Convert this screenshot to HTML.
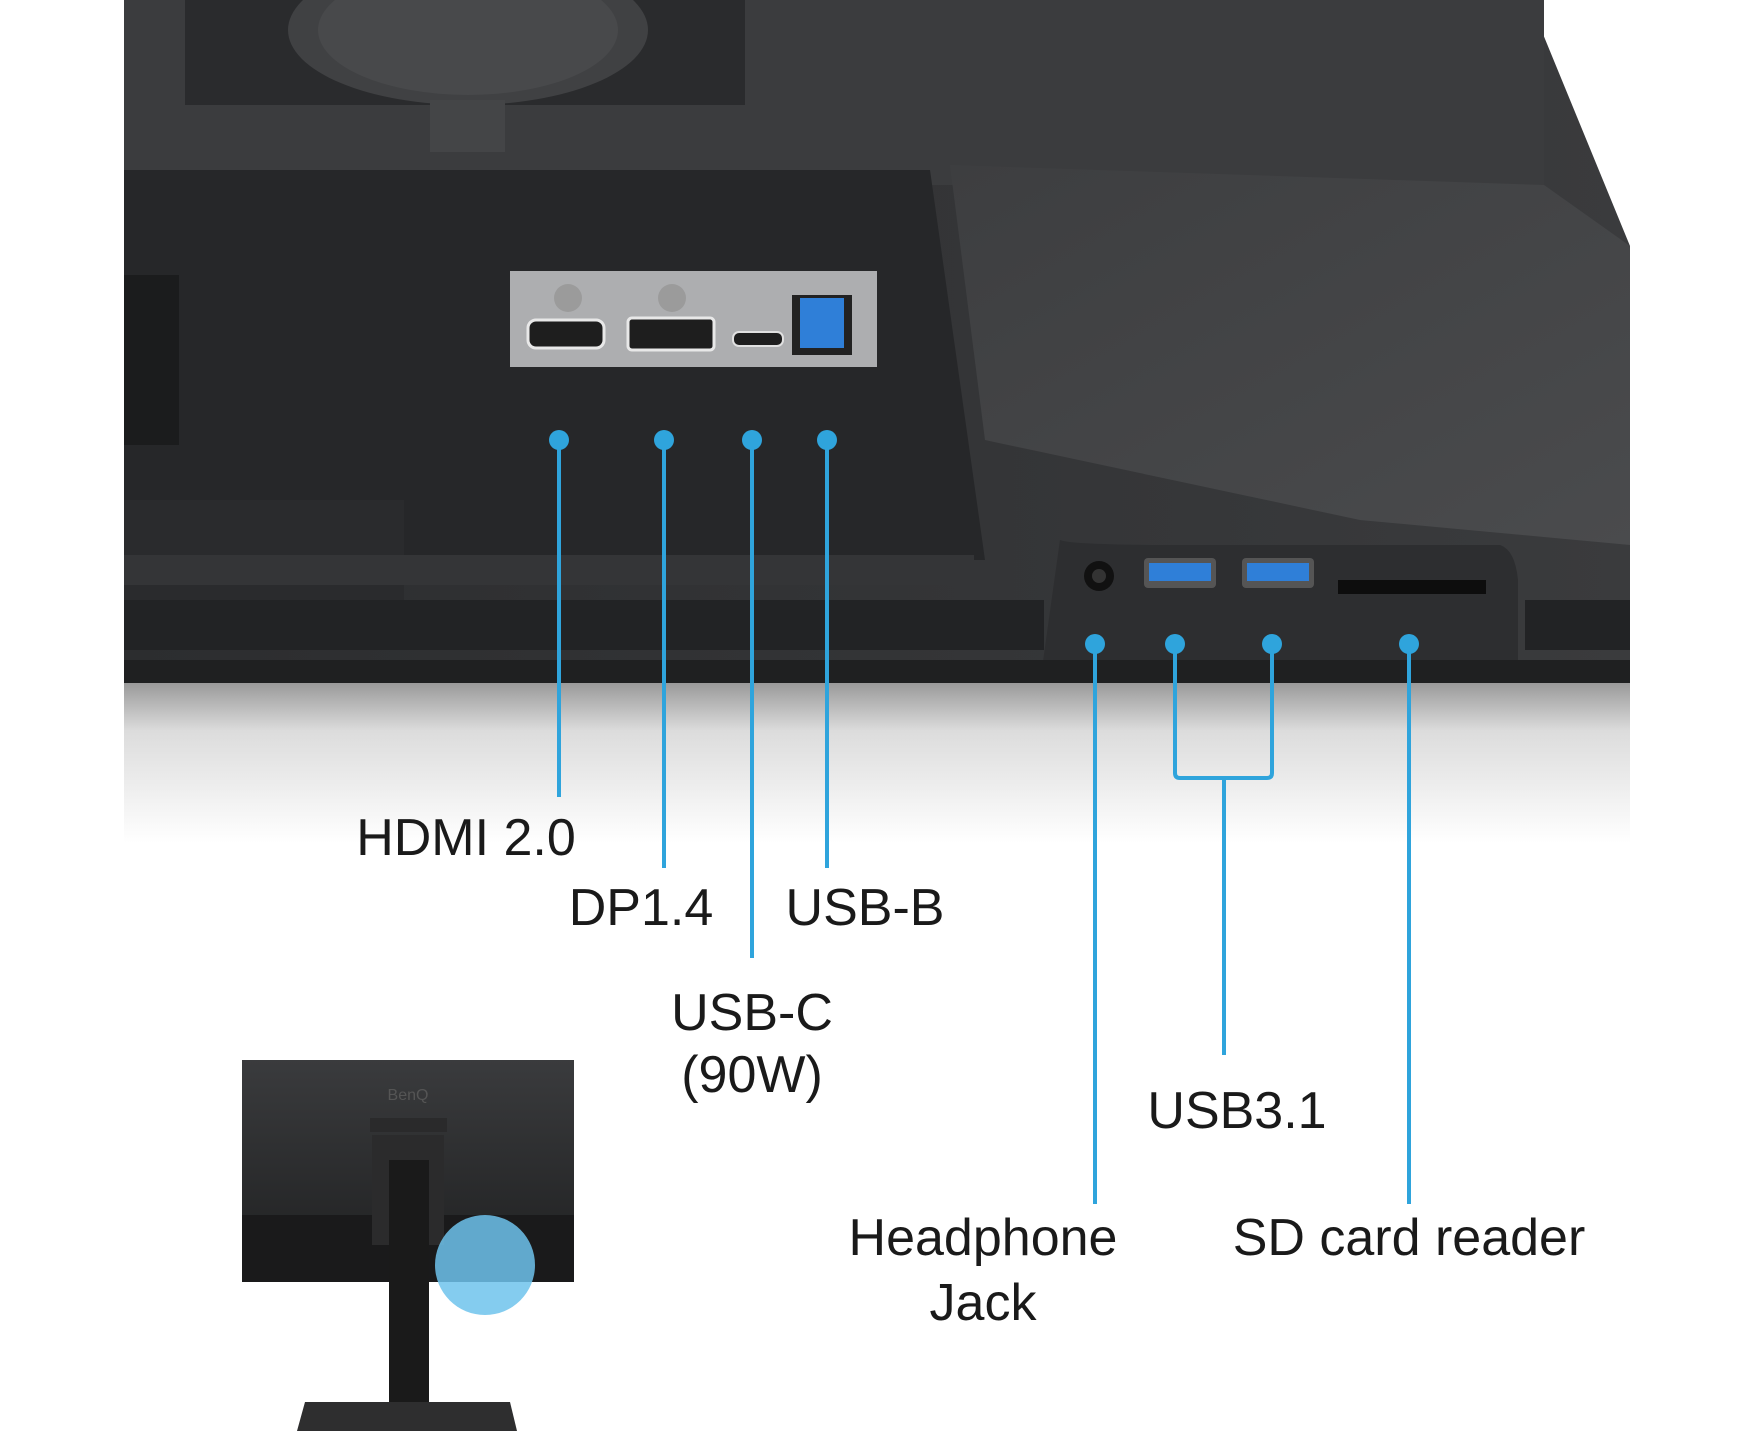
<!DOCTYPE html>
<html><head><meta charset="utf-8"><style>
html,body{margin:0;padding:0;background:#fff}
body{width:1749px;height:1431px;position:relative;overflow:hidden;font-family:"Liberation Sans",sans-serif}
.t{position:absolute;font-size:52px;color:#1a1a1a;text-align:center;white-space:nowrap;line-height:1;transform:translateX(-50%);letter-spacing:0px}
</style></head><body>
<svg width="1749" height="1431" style="position:absolute;left:0;top:0">
<defs>
<linearGradient id="sh" x1="0" y1="0" x2="0" y2="1">
<stop offset="0" stop-color="#9a9a9a"/><stop offset="0.3" stop-color="#dcdcdc"/><stop offset="1" stop-color="#fff"/>
</linearGradient>
<linearGradient id="body" x1="0" y1="0" x2="1" y2="0">
<stop offset="0" stop-color="#2c2d2f"/><stop offset="1" stop-color="#3a3b3d"/>
</linearGradient>
<linearGradient id="grill" x1="0" y1="0" x2="1" y2="1">
<stop offset="0" stop-color="#3d3e40"/><stop offset="1" stop-color="#4a4b4d"/>
</linearGradient>
<linearGradient id="tm" x1="0" y1="0" x2="0" y2="1">
<stop offset="0" stop-color="#3a3b3d"/><stop offset="1" stop-color="#1e1f20"/>
</linearGradient>
</defs>
<rect x="124" y="683" width="1506" height="160" fill="url(#sh)"/>
<polygon points="124,0 1529,0 1630,246 1630,683 124,683" fill="url(#body)"/>
<rect x="124" y="0" width="1420" height="185" fill="#3b3c3e"/>
<rect x="185" y="0" width="560" height="105" fill="#2a2b2d"/>
<ellipse cx="468" cy="30" rx="180" ry="75" fill="#404143"/>
<ellipse cx="468" cy="30" rx="150" ry="65" fill="#48494b"/>
<rect x="430" y="100" width="75" height="52" fill="#444547"/>
<polygon points="124,170 930,170 985,560 124,560" fill="#262729"/>
<polygon points="950,165 1544,185 1630,246 1630,545 1360,520 985,440" fill="url(#grill)"/>
<rect x="124" y="275" width="55" height="170" fill="#1b1c1d"/>
<rect x="124" y="500" width="280" height="110" fill="#2a2b2d"/>
<rect x="124" y="555" width="850" height="30" fill="#343537"/>
<rect x="124" y="600" width="920" height="50" fill="#222325"/>
<rect x="1525" y="600" width="105" height="50" fill="#222325"/>
<path d="M1060,540 Q1070,545 1180,545 L1500,545 Q1515,550 1518,580 L1518,683 L1040,683 Z" fill="#2d2e30"/>
<rect x="124" y="660" width="1506" height="23" fill="#1f2021"/>
<rect x="510" y="271" width="367" height="96" fill="#adaeb0"/>
<rect x="528" y="320" width="76" height="28" rx="8" fill="#1e1e1e" stroke="#e8e8e8" stroke-width="3"/>
<rect x="628" y="318" width="86" height="32" rx="4" fill="#1e1e1e" stroke="#e8e8e8" stroke-width="3"/>
<rect x="733" y="332" width="50" height="14" rx="6" fill="#1e1e1e" stroke="#e0e0e0" stroke-width="2"/>
<rect x="792" y="295" width="60" height="60" fill="#222"/>
<rect x="800" y="298" width="44" height="50" fill="#2f7fd8"/>
<circle cx="568" cy="298" r="14" fill="#9b9b9b"/><circle cx="672" cy="298" r="14" fill="#9b9b9b"/>
<circle cx="1099" cy="576" r="15" fill="#111"/><circle cx="1099" cy="576" r="7" fill="#333"/>
<rect x="1144" y="558" width="72" height="30" rx="4" fill="#555"/><rect x="1149" y="563" width="62" height="18" fill="#2f7fd8"/>
<rect x="1242" y="558" width="72" height="30" rx="4" fill="#555"/><rect x="1247" y="563" width="62" height="18" fill="#2f7fd8"/>
<rect x="1338" y="580" width="148" height="14" fill="#0d0d0d"/>
<g stroke="#2fa4dc" stroke-width="4" fill="none">
<line x1="559" y1="440" x2="559" y2="797"/>
<line x1="664" y1="440" x2="664" y2="868"/>
<line x1="752" y1="440" x2="752" y2="958"/>
<line x1="827" y1="440" x2="827" y2="868"/>
<line x1="1095" y1="644" x2="1095" y2="1204"/>
<path d="M1175,644 V773 Q1175,778 1180,778 H1267 Q1272,778 1272,773 V644"/>
<line x1="1224" y1="778" x2="1224" y2="1055"/>
<line x1="1409" y1="644" x2="1409" y2="1204"/>
</g>
<g fill="#2fa4dc">
<circle cx="559" cy="440" r="10"/><circle cx="664" cy="440" r="10"/><circle cx="752" cy="440" r="10"/><circle cx="827" cy="440" r="10"/>
<circle cx="1095" cy="644" r="10"/><circle cx="1175" cy="644" r="10"/><circle cx="1272" cy="644" r="10"/><circle cx="1409" cy="644" r="10"/>
</g>
<rect x="242" y="1060" width="332" height="222" fill="url(#tm)"/>
<rect x="242" y="1215" width="332" height="67" fill="#1a1a1b"/>
<rect x="370" y="1118" width="77" height="14" fill="#2a2a2b"/>
<rect x="372" y="1135" width="72" height="110" fill="#2b2b2c"/>
<rect x="389" y="1160" width="40" height="245" fill="#1a1a1a"/>
<path d="M297,1431 L305,1402 L510,1402 L517,1431 Z" fill="#2e2e2f"/>
<text x="408" y="1100" font-family="Liberation Sans" font-size="16" fill="#555" text-anchor="middle">BenQ</text>
<circle cx="485" cy="1265" r="50" fill="#6ec3ec" opacity="0.85"/>
</svg>
<div class="t" style="left:466px;top:812px">HDMI 2.0</div>
<div class="t" style="left:641px;top:882px">DP1.4</div>
<div class="t" style="left:865px;top:882px">USB-B</div>
<div class="t" style="left:752px;top:987px">USB-C</div>
<div class="t" style="left:752px;top:1049px">(90W)</div>
<div class="t" style="left:1237px;top:1085px">USB3.1</div>
<div class="t" style="left:983px;top:1212px">Headphone</div>
<div class="t" style="left:983px;top:1277px">Jack</div>
<div class="t" style="left:1409px;top:1212px">SD card reader</div>
</body></html>
